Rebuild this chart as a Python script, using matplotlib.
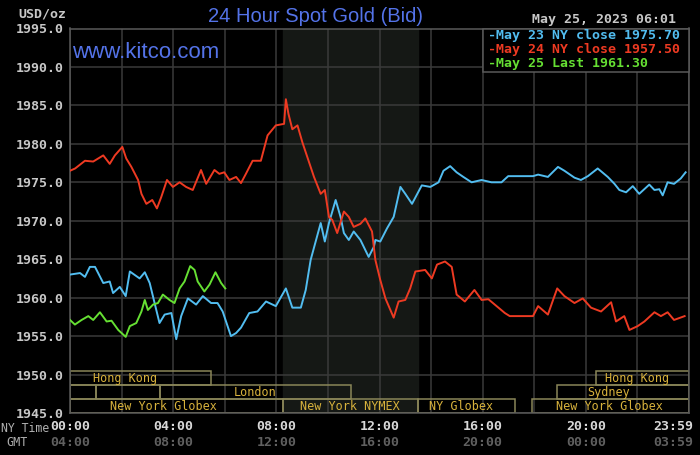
import numpy as np
import matplotlib.pyplot as plt
from matplotlib.patches import Rectangle
import matplotlib.transforms as mtransforms

# May 23 NY close (cyan), hours NY time / price
t_may23 = [0, 0.39, 0.58, 0.77, 0.97, 1.29, 1.54, 1.67, 1.93, 2.16, 2.32, 2.7, 2.9, 3.09, 3.28,
           3.47, 3.67, 3.93, 4.12, 4.31, 4.57, 4.89, 5.15, 5.47, 5.72, 5.92, 6.24, 6.44, 6.63,
           6.95, 7.27, 7.6, 7.98, 8.37, 8.62, 8.95, 9.14, 9.33, 9.72, 9.88, 10.04, 10.3, 10.49,
           10.62, 10.81, 11.0, 11.26, 11.58, 11.78, 11.84, 12.03, 12.29, 12.55, 12.81, 13.0,
           13.26, 13.64, 13.97, 14.29, 14.48, 14.74, 14.99, 15.25, 15.57, 15.96, 16.34, 16.73,
           16.99, 17.95, 18.15, 18.53, 18.92, 19.17, 19.56, 19.81, 20.08, 20.46, 20.85, 21.11,
           21.3, 21.56, 21.82, 22.07, 22.46, 22.66, 22.85, 22.98, 23.17, 23.42, 23.68, 23.87]
p_may23 = [1963.0, 1963.2, 1962.7, 1964.0, 1964.0, 1961.9, 1962.1, 1960.6, 1961.4, 1960.2, 1963.4,
           1962.5, 1963.3, 1961.9, 1959.3, 1956.7, 1957.8, 1958.0, 1954.6, 1957.6, 1959.9, 1959.1,
           1960.2, 1959.3, 1959.3, 1958.2, 1955.0, 1955.4, 1956.1, 1958.0, 1958.2, 1959.5, 1958.9,
           1961.2, 1958.7, 1958.7, 1961.0, 1964.9, 1969.7, 1967.3, 1969.7, 1972.7, 1970.5, 1968.4,
           1967.5, 1968.6, 1967.5, 1965.3, 1966.6, 1967.5, 1967.3, 1969.0, 1970.5, 1974.4, 1973.5,
           1972.2, 1974.6, 1974.4, 1975.0, 1976.5, 1977.1, 1976.3, 1975.7, 1975.0, 1975.3, 1975.0,
           1975.0, 1975.8, 1975.8, 1976.0, 1975.7, 1977.0, 1976.5, 1975.6, 1975.3, 1975.8, 1976.8,
           1975.7, 1974.8, 1974.0, 1973.7, 1974.5, 1973.5, 1974.7, 1974.0, 1974.1, 1973.3, 1975.0,
           1974.8, 1975.5, 1976.3]

# May 24 NY close (red)
t_may24 = [0, 0.2, 0.58, 0.9, 1.29, 1.54, 1.74, 2.03, 2.18, 2.38, 2.64, 2.77, 2.96, 3.19, 3.37,
           3.54, 3.76, 3.99, 4.25, 4.5, 4.76, 5.08, 5.28, 5.6, 5.79, 5.98, 6.18, 6.44, 6.63, 6.82,
           7.08, 7.4, 7.66, 7.98, 8.3, 8.37, 8.47, 8.62, 8.82, 9.01, 9.2, 9.46, 9.72, 9.88, 10.04,
           10.17, 10.36, 10.62, 10.81, 11.0, 11.26, 11.45, 11.71, 11.84, 12.03, 12.23, 12.55,
           12.74, 13.0, 13.19, 13.39, 13.77, 14.03, 14.23, 14.54, 14.8, 14.99, 15.31, 15.68,
           15.96, 16.22, 16.54, 16.86, 17.05, 17.95, 18.15, 18.53, 18.73, 18.89, 19.17, 19.56,
           19.88, 20.2, 20.59, 20.98, 21.17, 21.49, 21.69, 22.01, 22.27, 22.66, 22.91, 23.17,
           23.42, 23.83]
p_may24 = [1976.5, 1976.8, 1977.8, 1977.7, 1978.5, 1977.4, 1978.5, 1979.6, 1978.1, 1977.0, 1975.3,
           1973.5, 1972.2, 1972.7, 1971.6, 1973.1, 1975.3, 1974.4, 1975.0, 1974.4, 1974.0, 1976.6,
           1974.8, 1976.6, 1976.1, 1976.3, 1975.3, 1975.7, 1974.9, 1976.1, 1977.8, 1977.8, 1981.1,
           1982.4, 1982.6, 1985.8, 1983.9, 1981.9, 1982.4, 1980.2, 1978.3, 1975.7, 1973.5, 1974.0,
           1970.5, 1970.1, 1968.4, 1971.2, 1970.5, 1969.2, 1969.6, 1970.3, 1968.6, 1964.9, 1962.3,
           1959.9, 1957.4, 1959.5, 1959.7, 1961.2, 1963.4, 1963.6, 1962.5, 1964.3, 1964.7, 1964.0,
           1960.4, 1959.5, 1961.0, 1959.7, 1959.8, 1958.9, 1958.0, 1957.6, 1957.6, 1958.9, 1957.8,
           1959.7, 1961.2, 1960.2, 1959.3, 1959.9, 1958.7, 1958.2, 1959.4, 1956.9, 1957.6, 1955.8,
           1956.3, 1956.9, 1958.1, 1957.6, 1958.1, 1957.1, 1957.6]

# May 25 last (green)
t_may25 = [0, 0.19, 0.45, 0.71, 0.9, 1.16, 1.42, 1.61, 1.87, 2.16, 2.32, 2.57, 2.77, 2.9, 3.02,
           3.22, 3.41, 3.6, 3.86, 4.05, 4.25, 4.44, 4.66, 4.83, 4.95, 5.21, 5.41, 5.64, 5.86, 6.02]
p_may25 = [1957.1, 1956.5, 1957.1, 1957.6, 1957.1, 1958.1, 1956.9, 1957.0, 1955.8, 1954.9, 1956.3,
           1956.7, 1958.2, 1959.7, 1958.4, 1959.1, 1959.3, 1960.4, 1959.7, 1959.3, 1961.2, 1962.1,
           1964.1, 1963.6, 1962.1, 1960.8, 1961.7, 1963.3, 1961.9, 1961.2]

legend_labels = ["-May 23 NY close 1975.70", "-May 24 NY close 1957.50", "-May 25 Last 1961.30"]
ny_labels = ["00:00", "04:00", "08:00", "12:00", "16:00", "20:00", "23:59"]
gmt_labels = ["04:00", "08:00", "12:00", "16:00", "20:00", "00:00", "03:59"]
label_hours = [0, 4, 8, 12, 16, 20, 24]

# trading sessions: start, end, row (0 top), label, label hour
sess_start = [0, 20.4, 0, 1.0, 3.5, 18.9, 0, 8.25, 13.5, 17.9]
sess_end = [5.45, 24, 1.0, 3.5, 10.9, 24, 8.25, 13.5, 17.25, 24]
sess_row = [0, 0, 1, 1, 1, 1, 2, 2, 2, 2]
sess_name = ["Hong Kong", "Hong Kong", "", "", "London", "Sydney",
             "New York Globex", "New York NYMEX", "NY Globex", "New York Globex"]
sess_label_at = [2.13, 21.97, 0, 0, 7.16, 20.9, 3.64, 10.87, 15.15, 20.9]

CYAN = "#52bdf0"
RED = "#ee3a22"
GREEN = "#66e033"
BLUE = "#5473e8"
MONO = "DejaVu Sans Mono"

fig = plt.figure(figsize=(7, 4.55), dpi=100, facecolor="black")
ax = fig.add_axes([70 / 700, 1 - 413 / 455, 619 / 700, 384.5 / 455])
ax.set_facecolor("black")
ax.set_xlim(0, 24)
ax.set_ylim(1945, 1995)

ax.axvspan(8.25, 13.5, color="#151815", zorder=0)

ax.set_xticks(np.arange(0, 25, 2))
ax.set_xticklabels([])
ax.set_yticks(np.arange(1945, 1996, 5))
ax.set_yticklabels(["%.1f" % v for v in np.arange(1945, 1996, 5)],
                   fontfamily=MONO, fontweight="bold", fontsize=9.5, color="#c8c8c8")
ax.tick_params(length=0, pad=4.5)
ax.grid(color="#3a3a3a", linewidth=1.1, zorder=1)
ax.set_axisbelow(True)
for s in ax.spines.values():
    s.set_color("#5a5a5a")
    s.set_linewidth(1.1)

ax.plot(t_may23, p_may23, color=CYAN, lw=1.4, zorder=3)
ax.plot(t_may24, p_may24, color=RED, lw=1.4, zorder=3)
ax.plot(t_may25, p_may25, color=GREEN, lw=1.4, zorder=4)

# session boxes at the bottom
row_top = [1950.5, 1948.65, 1946.8]
row_h = [1.85, 1.85, 1.8]
for s0, s1, r, name, lx in zip(sess_start, sess_end, sess_row, sess_name, sess_label_at):
    y0 = row_top[r] - row_h[r]
    ax.add_patch(Rectangle((s0, y0), s1 - s0, row_h[r], fill=False,
                           edgecolor="#8a8658", lw=1.1, zorder=2))
    if name:
        ax.text(lx, y0 + row_h[r] / 2 - 0.05, name, ha="center", va="center",
                fontfamily=MONO, fontsize=8.5, color="#d8b23c", zorder=5)

# x labels: NY time and GMT
trans = mtransforms.blended_transform_factory(ax.transData, fig.transFigure)
for h, ny, gmt in zip(label_hours, ny_labels, gmt_labels):
    ha = "right" if h == 24 else "center"
    xx = 24.15 if h == 24 else h
    ax.text(xx, 1 - 427 / 455, ny, transform=trans, ha=ha, va="center", fontfamily=MONO,
            fontweight="bold", fontsize=9.5, color="#d8d8d8", clip_on=False)
    ax.text(xx, 1 - 442 / 455, gmt, transform=trans, ha=ha, va="center", fontfamily=MONO,
            fontweight="bold", fontsize=9.5, color="#606060", clip_on=False)
fig.text(49 / 700, 1 - 428 / 455, "NY Time", ha="right", va="center", fontfamily=MONO,
         fontsize=8.3, color="#b0b0b0")
fig.text(28 / 700, 1 - 442 / 455, "GMT", ha="right", va="center", fontfamily=MONO,
         fontsize=8.5, color="#b0b0b0")

# titles
fig.text(315 / 700, 1 - 17 / 455, "24 Hour Spot Gold (Bid)", ha="center", va="center",
         fontfamily="Liberation Sans", fontsize=14.5, color=BLUE)
fig.text(72 / 700, 1 - 52 / 455, "www.kitco.com", ha="left", va="center",
         fontfamily="Liberation Sans", fontsize=16, color=BLUE)
fig.text(18 / 700, 1 - 14 / 455, "USD/oz", ha="left", va="center", fontfamily=MONO,
         fontweight="bold", fontsize=9.5, color="#c8c8c8")
fig.text(676 / 700, 1 - 19 / 455, "May 25, 2023 06:01", ha="right", va="center",
         fontfamily=MONO, fontweight="bold", fontsize=9.5, color="#c8c8c8")

# legend box
fig.patches.append(Rectangle((483 / 700, 1 - 72 / 455), 206 / 700, 43 / 455,
                             transform=fig.transFigure, facecolor="black",
                             edgecolor="#5a5a5a", lw=1.1, zorder=10))
for i, (lab, c) in enumerate(zip(legend_labels, [CYAN, RED, GREEN])):
    fig.text(488 / 700, 1 - (36 + 14 * i) / 455, lab, ha="left", va="center",
             fontfamily=MONO, fontweight="bold", fontsize=9.5, color=c, zorder=11)

fig.savefig("out.png", dpi=100, facecolor="black")
